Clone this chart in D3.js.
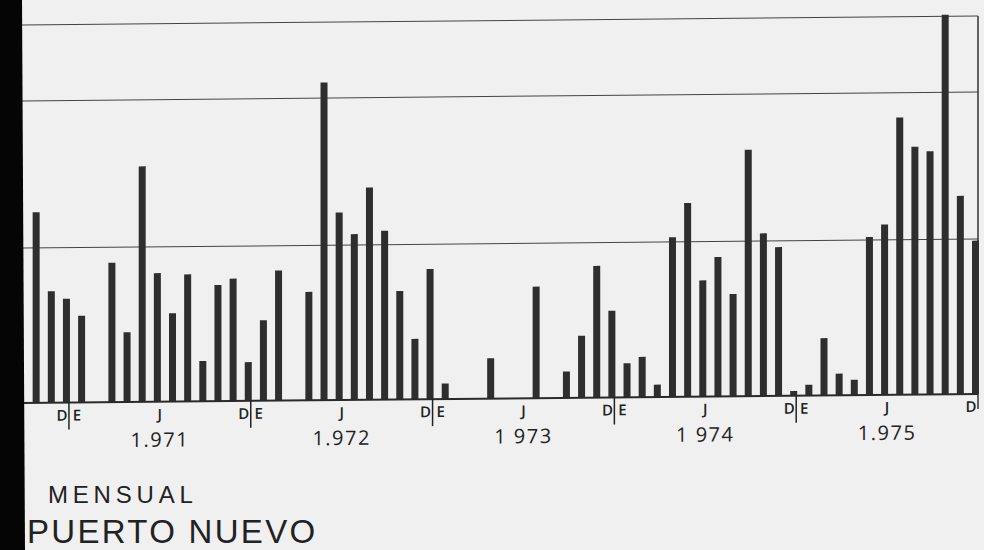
<!DOCTYPE html>
<html>
<head>
<meta charset="utf-8">
<script src="https://cdn.jsdelivr.net/npm/d3@7"></script>
<style>
  html, body { margin: 0; padding: 0; background: #f0f0f0; }
  svg { display: block; }
</style>
</head>
<body>
<svg id="chart" width="984" height="550"></svg>
<script>
// Monthly totals, October 1970 to December 1975
const months = [
  "1970-10","1970-11","1970-12",
  "1971-01","1971-02","1971-03","1971-04","1971-05","1971-06","1971-07","1971-08","1971-09","1971-10","1971-11","1971-12",
  "1972-01","1972-02","1972-03","1972-04","1972-05","1972-06","1972-07","1972-08","1972-09","1972-10","1972-11","1972-12",
  "1973-01","1973-02","1973-03","1973-04","1973-05","1973-06","1973-07","1973-08","1973-09","1973-10","1973-11","1973-12",
  "1974-01","1974-02","1974-03","1974-04","1974-05","1974-06","1974-07","1974-08","1974-09","1974-10","1974-11","1974-12",
  "1975-01","1975-02","1975-03","1975-04","1975-05","1975-06","1975-07","1975-08","1975-09","1975-10","1975-11","1975-12"
];
const values = [
  123, 72, 67,
  56, 0, 90, 45, 152, 83, 57, 82, 26, 75, 79, 25,
  52, 84, 0, 70, 205, 121, 107, 137, 109, 70, 39, 84,
  10, 0, 0, 26, 0, 0, 72, 0, 17, 40, 85, 56,
  22, 26, 8, 103, 125, 75, 90, 66, 159, 105, 96, 3,
  7, 37, 14, 10, 102, 110, 179, 160, 157, 245, 128, 99
];
const yearLabels = ["1.971", "1.972", "1 973", "1 974", "1.975"];
const yearKeys = ["1971", "1972", "1973", "1974", "1975"];
const gridValues = [100, 195, 244];

const svg = d3.select("#chart");
const W = 984, H = 550;
const left = 22, right = 978, base = 403;

// Paper background
svg.append("rect").attr("width", W).attr("height", H).attr("fill", "#f0f0f0");

const x = d3.scaleBand().domain(months).range([23.5, right]).padding(0);
const y = d3.scaleLinear().domain([0, 244]).range([base, 25]);
const bw = 7;

// The sheet is drawn slightly askew: horizontals drop toward the right
const g = svg.append("g")
  .attr("transform", `translate(${left},${base}) skewY(-0.54) translate(${-left},${-base})`);

// Horizontal reference lines
g.selectAll("line.grid").data(gridValues).join("line")
  .attr("class", "grid")
  .attr("x1", left).attr("x2", right)
  .attr("y1", d => y(d)).attr("y2", d => y(d))
  .attr("stroke", "#444").attr("stroke-width", 1);

// Right frame edge
g.append("line")
  .attr("x1", right).attr("x2", right)
  .attr("y1", y(gridValues[2])).attr("y2", base + 15)
  .attr("stroke", "#333").attr("stroke-width", 1.5);

// Bars
g.selectAll("rect.bar").data(months.map((m, i) => ({ m, v: values[i] })).filter(d => d.v > 0))
  .join("rect")
  .attr("class", "bar")
  .attr("x", d => x(d.m) + x.bandwidth() - bw + 1)
  .attr("width", bw)
  .attr("y", d => y(d.v))
  .attr("height", d => base - y(d.v))
  .attr("fill", "#2e2e2e");

// Baseline
g.append("line")
  .attr("x1", left).attr("x2", right)
  .attr("y1", base).attr("y2", base)
  .attr("stroke", "#2a2a2a").attr("stroke-width", 2);

const font = "'Open Sans', 'DejaVu Sans', sans-serif";
const titleFont = "'Liberation Sans', Arial, sans-serif";

// Year boundaries: D | E
const boundaries = yearKeys.map(yr => x(yr + "-01"));
g.selectAll("line.div").data(boundaries).join("line")
  .attr("class", "div")
  .attr("x1", d => d).attr("x2", d => d)
  .attr("y1", base).attr("y2", base + 27)
  .attr("stroke", "#222").attr("stroke-width", 1.5);

g.selectAll("text.dec").data(boundaries.concat([right])).join("text")
  .attr("class", "dec")
  .attr("x", d => d - 7).attr("y", base + 18)
  .attr("text-anchor", "middle")
  .attr("font-family", font).attr("font-size", 15).attr("font-weight", 600).attr("fill", "#222")
  .text("D");

g.selectAll("text.ene").data(boundaries).join("text")
  .attr("class", "ene")
  .attr("x", d => d + 8).attr("y", base + 18)
  .attr("text-anchor", "middle")
  .attr("font-family", font).attr("font-size", 15).attr("font-weight", 600).attr("fill", "#222")
  .text("E");

// Mid-year mark and year captions
const mids = yearKeys.map(yr => x(yr + "-07"));
g.selectAll("text.jun").data(mids).join("text")
  .attr("class", "jun")
  .attr("x", d => d).attr("y", base + 18)
  .attr("text-anchor", "middle")
  .attr("font-family", font).attr("font-size", 15).attr("font-weight", 600).attr("fill", "#222")
  .text("J");

g.selectAll("text.year").data(yearLabels).join("text")
  .attr("class", "year")
  .attr("x", (d, i) => mids[i]).attr("y", base + 45)
  .attr("text-anchor", "middle")
  .attr("font-family", font).attr("font-size", 20).attr("letter-spacing", 1.5)
  .attr("fill", "#222")
  .text(d => d);

// Titles
svg.append("text")
  .attr("x", 48).attr("y", 503)
  .attr("font-family", titleFont).attr("font-size", 24).attr("letter-spacing", 4.8)
  .attr("fill", "#222")
  .text("MENSUAL");

svg.append("text")
  .attr("x", 27).attr("y", 543)
  .attr("font-family", titleFont).attr("font-size", 33).attr("letter-spacing", 2.3)
  .attr("fill", "#222")
  .text("PUERTO NUEVO");

// Dark page edge on the left
svg.append("path")
  .attr("d", `M0,0 L22,0 L25,${H} L0,${H} Z`)
  .attr("fill", "#050505");
</script>
</body>
</html>
